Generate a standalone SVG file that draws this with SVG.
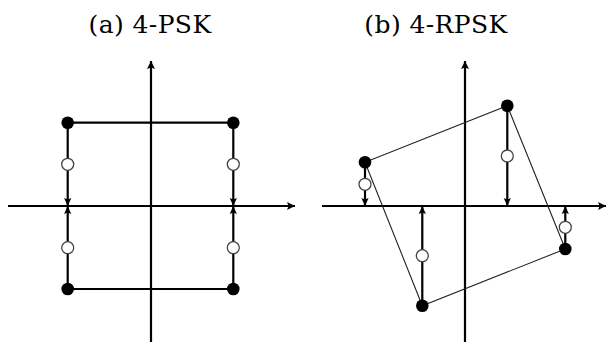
<svg xmlns="http://www.w3.org/2000/svg" width="607" height="348" viewBox="0 0 607 348">
  <style>
    .title { font-family: 'DejaVu Serif', serif; font-size: 25px; letter-spacing: 0.4px; fill: #000; text-anchor: middle; }
    .axis { stroke: #000; stroke-width: 2.2; fill: none; }
    .edge { stroke: #000; stroke-width: 2.2; fill: none; }
    .edge-thin { stroke: #222; stroke-width: 1.1; fill: none; }
    .drop { stroke: #000; stroke-width: 2.2; fill: none; }
    .dot { fill: #000; }
    .ring { fill: #fff; stroke: #444; stroke-width: 1.3; }
  </style>
  <defs>
    <marker id="head" viewBox="0 0 10 10" refX="10" refY="5" markerWidth="9" markerHeight="8" orient="auto" markerUnits="userSpaceOnUse">
      <path d="M0,0 L10,5 L0,10 L2,5 Z" fill="#000"/>
    </marker>
    <marker id="tip" viewBox="0 0 10 10" refX="10" refY="5" markerWidth="9" markerHeight="8" orient="auto" markerUnits="userSpaceOnUse">
      <path d="M0,0.5 L10,5 L0,9.5 L2,5 Z" fill="#000"/>
    </marker>
  </defs>

  <text class="title" x="150" y="33">(a) 4-PSK</text>
  <text class="title" x="436" y="33">(b) 4-RPSK</text>

  <!-- panel (a): square constellation -->
  <g id="axes-a">
    <line class="axis" x1="8" y1="206" x2="295" y2="206" marker-end="url(#head)"/>
    <line class="axis" x1="151" y1="342" x2="151" y2="61" marker-end="url(#head)"/>
  </g>
  <g id="connectors-a">
    <path class="edge" d="M67.7,122.7 H233.3 M67.7,289 H233.3"/>
    <line class="drop" x1="67.7" y1="122.7" x2="67.7" y2="206" marker-end="url(#tip)"/>
    <line class="drop" x1="233.3" y1="122.7" x2="233.3" y2="206" marker-end="url(#tip)"/>
    <line class="drop" x1="67.7" y1="289" x2="67.7" y2="206" marker-end="url(#tip)"/>
    <line class="drop" x1="233.3" y1="289" x2="233.3" y2="206" marker-end="url(#tip)"/>
  </g>
  <g id="node-a1"><circle class="dot" cx="67.7" cy="122.7" r="6.3"/><circle class="ring" cx="67.7" cy="164.3" r="6"/></g>
  <g id="node-a2"><circle class="dot" cx="233.3" cy="122.7" r="6.3"/><circle class="ring" cx="233.3" cy="164.3" r="6"/></g>
  <g id="node-a3"><circle class="dot" cx="67.7" cy="289" r="6.3"/><circle class="ring" cx="67.7" cy="247.7" r="6"/></g>
  <g id="node-a4"><circle class="dot" cx="233.3" cy="289" r="6.3"/><circle class="ring" cx="233.3" cy="247.7" r="6"/></g>

  <!-- panel (b): rotated constellation -->
  <g id="axes-b">
    <line class="axis" x1="322" y1="206" x2="606" y2="206" marker-end="url(#head)"/>
    <line class="axis" x1="465" y1="342" x2="465" y2="61" marker-end="url(#head)"/>
  </g>
  <g id="connectors-b">
    <polygon class="edge-thin" points="507.3,105.7 565.3,249 422.3,305.7 365,162.3"/>
    <line class="drop" x1="507.3" y1="105.7" x2="507.3" y2="206" marker-end="url(#tip)"/>
    <line class="drop" x1="365" y1="162.3" x2="365" y2="206" marker-end="url(#tip)"/>
    <line class="drop" x1="422.3" y1="305.7" x2="422.3" y2="206" marker-end="url(#tip)"/>
    <line class="drop" x1="565.3" y1="249" x2="565.3" y2="206" marker-end="url(#tip)"/>
  </g>
  <g id="node-b1"><circle class="dot" cx="507.3" cy="105.7" r="6.3"/><circle class="ring" cx="507.3" cy="156" r="6"/></g>
  <g id="node-b2"><circle class="dot" cx="365" cy="162.3" r="6.3"/><circle class="ring" cx="365" cy="184.3" r="6"/></g>
  <g id="node-b3"><circle class="dot" cx="422.3" cy="305.7" r="6.3"/><circle class="ring" cx="422.3" cy="255.7" r="6"/></g>
  <g id="node-b4"><circle class="dot" cx="565.3" cy="249" r="6.3"/><circle class="ring" cx="565.3" cy="227.3" r="6"/></g>
</svg>
